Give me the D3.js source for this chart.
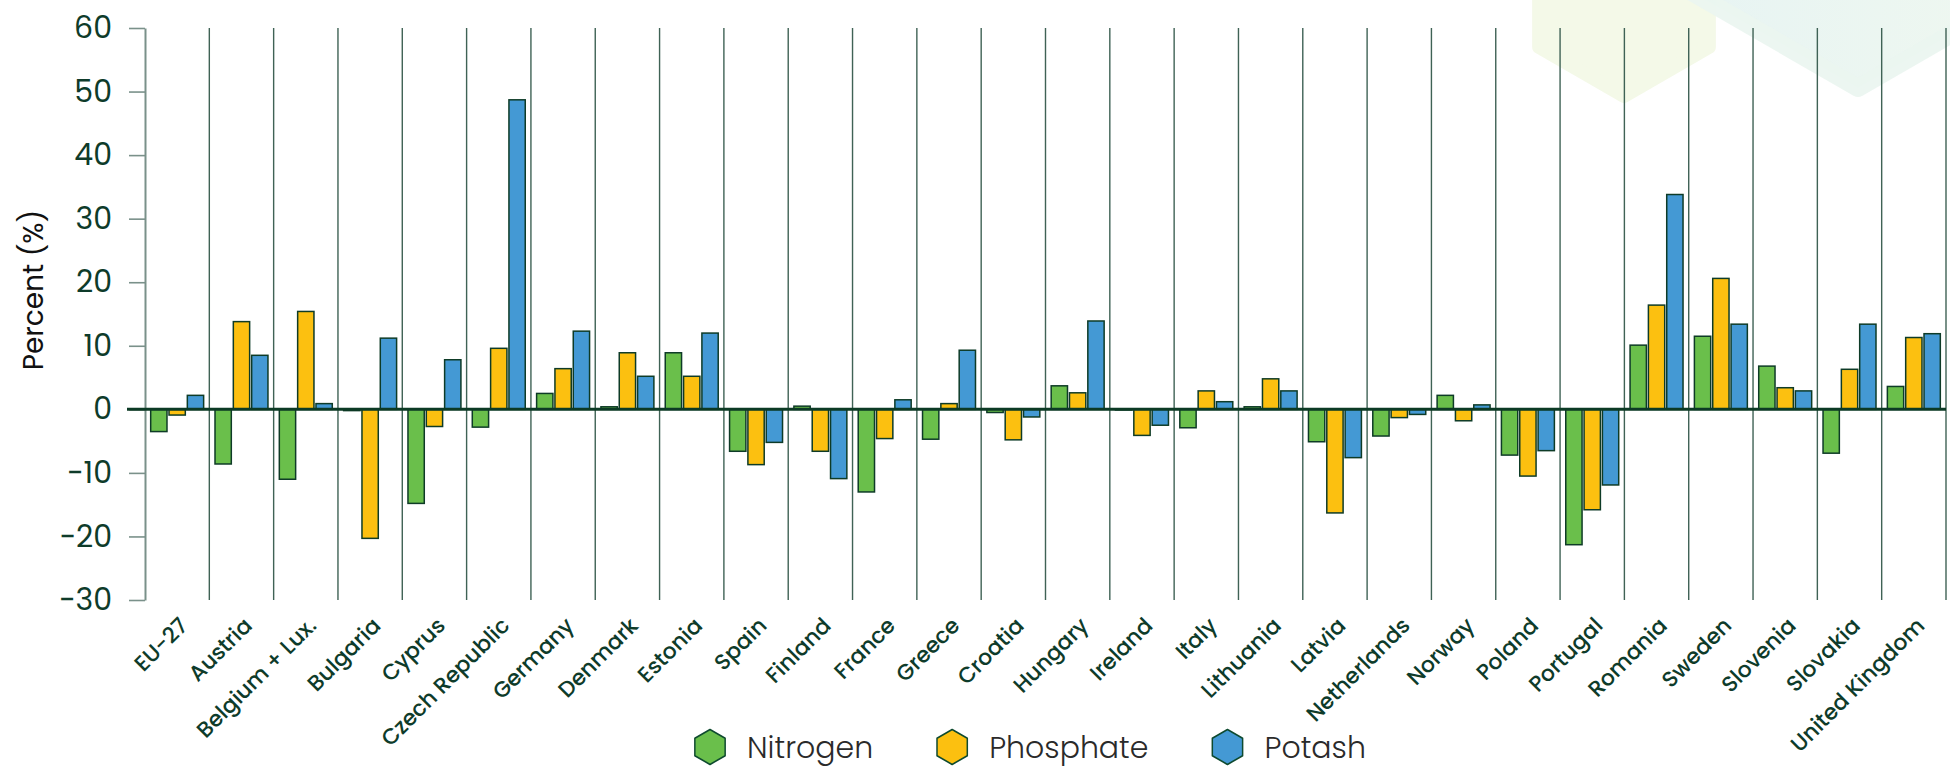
<!DOCTYPE html>
<html>
<head>
<meta charset="utf-8">
<script src="https://cdn.jsdelivr.net/npm/d3@7"></script>
<style>
  body { margin: 0; background: #fff; }
  text { font-family: Poppins, Inter, sans-serif; }
</style>
</head>
<body>
<svg width="1950" height="768"></svg>

<script>

var countries = ["EU-27", "Austria", "Belgium + Lux.", "Bulgaria", "Cyprus", "Czech Republic",
  "Germany", "Denmark", "Estonia", "Spain", "Finland", "France", "Greece", "Croatia", "Hungary",
  "Ireland", "Italy", "Lithuania", "Latvia", "Netherlands", "Norway", "Poland", "Portugal",
  "Romania", "Sweden", "Slovenia", "Slovakia", "United Kingdom"];

var nitrogen  = [-3.5, -8.6, -11.0, -0.2, -14.8, -2.8, 2.5, 0.4, 8.9, -6.6, 0.5, -13.0, -4.7, -0.5,
  3.7, -0.1, -2.9, 0.4, -5.1, -4.2, 2.2, -7.2, -21.3, 10.1, 11.5, 6.8, -6.9, 3.6];
var phosphate = [-0.9, 13.8, 15.4, -20.3, -2.7, 9.6, 6.4, 8.9, 5.2, -8.7, -6.6, -4.6, 0.9, -4.8,
  2.6, -4.1, 2.9, 4.8, -16.3, -1.3, -1.8, -10.5, -15.8, 16.4, 20.6, 3.4, 6.3, 11.3];
var potash    = [2.2, 8.5, 0.9, 11.2, 7.8, 48.7, 12.3, 5.2, 12.0, -5.2, -10.9, 1.5, 9.3, -1.2,
  13.9, -2.5, 1.2, 2.9, -7.6, -0.8, 0.7, -6.5, -11.9, 33.8, 13.4, 2.9, 13.4, 11.9];

var seriesNames = ["Nitrogen", "Phosphate", "Potash"];
var yTicks = [-30, -20, -10, 0, 10, 20, 30, 40, 50, 60];

var colors = {Nitrogen: "#6abf4b", Phosphate: "#fcc010", Potash: "#4499d4"};
var ink = "#0e3b2a";

var svg = d3.select("svg");

var x0 = d3.scaleBand().domain(countries).range([145, 1946]).padding(0);
var x1 = d3.scaleBand().domain(seriesNames).range([0, x0.bandwidth()])
    .paddingInner(0.11).paddingOuter(0.31);
var y = d3.scaleLinear().domain([-30, 60]).range([600, 28]);

var rows = countries.map(function(c, i) {
  return {country: c, values: [
    {key: "Nitrogen", value: nitrogen[i]},
    {key: "Phosphate", value: phosphate[i]},
    {key: "Potash", value: potash[i]}
  ]};
});

// pointy-top hexagon path
function hexPath(cx, cy, r) {
  var pts = d3.range(6).map(function(k) {
    var a = Math.PI / 3 * k - Math.PI / 2;
    return [cx + r * Math.cos(a), cy + r * Math.sin(a)];
  });
  return d3.line().curve(d3.curveLinearClosed)(pts);
}

// faint decoration in the top right corner
var defs = svg.append("defs");
var grad = defs.append("linearGradient").attr("id", "teal");
grad.append("stop").attr("offset", "0%").attr("stop-color", "#e5f3f2");
grad.append("stop").attr("offset", "100%").attr("stop-color", "#eef7ee");

svg.append("path")
    .attr("d", hexPath(1624, -2, 98))
    .attr("fill", "#f4f9e8")
    .attr("stroke", "#f4f9e8").attr("stroke-width", 14).attr("stroke-linejoin", "round");
svg.append("path")
    .attr("d", hexPath(1858, -110, 198))
    .attr("fill", "url(#teal)").attr("fill-opacity", 0.92)
    .attr("stroke", "#eaf5f0").attr("stroke-width", 18).attr("stroke-linejoin", "round")
    .attr("stroke-opacity", 0.92);

// vertical separators between countries
svg.append("g")
  .selectAll("line")
  .data(countries.slice(1).concat([null]))
  .enter().append("line")
    .attr("x1", function(d) { return d ? x0(d) : x0.range()[1]; })
    .attr("x2", function(d) { return d ? x0(d) : x0.range()[1]; })
    .attr("y1", y(60)).attr("y2", y(-30))
    .attr("stroke", "#3f6255").attr("stroke-width", 1.4);

// y axis
var yAxis = svg.append("g")
    .attr("transform", "translate(145,0)")
    .call(d3.axisLeft(y).tickValues(yTicks).tickSize(16).tickSizeOuter(0).tickPadding(17));
yAxis.select(".domain").attr("stroke", "#7a918a").attr("stroke-width", 2);
yAxis.selectAll(".tick line").attr("stroke", "#7a918a").attr("stroke-width", 1.6);
yAxis.selectAll(".tick text")
    .attr("fill", ink)
    .style("font-size", "30px")
    .style("font-family", "Poppins, Inter, sans-serif");

svg.append("text")
    .attr("transform", "translate(43,290) rotate(-90)")
    .attr("text-anchor", "middle")
    .attr("fill", "#111")
    .style("font-size", "28px")
    .text("Percent (%)");

// bars
svg.append("g")
  .selectAll("g")
  .data(rows)
  .enter().append("g")
    .attr("transform", function(d) { return "translate(" + x0(d.country) + ",0)"; })
  .selectAll("rect")
  .data(function(d) { return d.values; })
  .enter().append("rect")
    .attr("x", function(d) { return x1(d.key); })
    .attr("width", x1.bandwidth())
    .attr("y", function(d) { return y(Math.max(0, d.value)); })
    .attr("height", function(d) { return Math.abs(y(d.value) - y(0)); })
    .attr("fill", function(d) { return colors[d.key]; })
    .attr("stroke", "#0e3b27")
    .attr("stroke-width", 1.5);

// zero line
svg.append("line")
    .attr("x1", 127).attr("x2", x0.range()[1])
    .attr("y1", y(0)).attr("y2", y(0))
    .attr("stroke", "#0c3a25").attr("stroke-width", 3);

// country labels
svg.append("g")
  .selectAll("text")
  .data(countries)
  .enter().append("text")
    .attr("transform", function(d) {
      return "translate(" + (x0(d) + x0.bandwidth() / 2 + 12) + ",627) rotate(-45)";
    })
    .attr("text-anchor", "end")
    .attr("fill", ink)
    .style("font-size", "22px")
    .style("font-weight", 500)
    .text(function(d) { return d; });

// legend
var legend = svg.append("g");
var lx = 695;
seriesNames.forEach(function(name) {
  legend.append("path")
      .attr("d", hexPath(lx + 15, 747, 17.5))
      .attr("fill", colors[name])
      .attr("stroke", "#0e4a2f").attr("stroke-width", 1.5).attr("stroke-linejoin", "round");
  var t = legend.append("text")
      .attr("x", lx + 52).attr("y", 758)
      .attr("fill", "#2a2a2a")
      .style("font-size", "30px")
      .style("font-weight", 300)
      .text(name);
  lx += 52 + t.node().getComputedTextLength() + 64;
});

</script>
</body>
</html>
